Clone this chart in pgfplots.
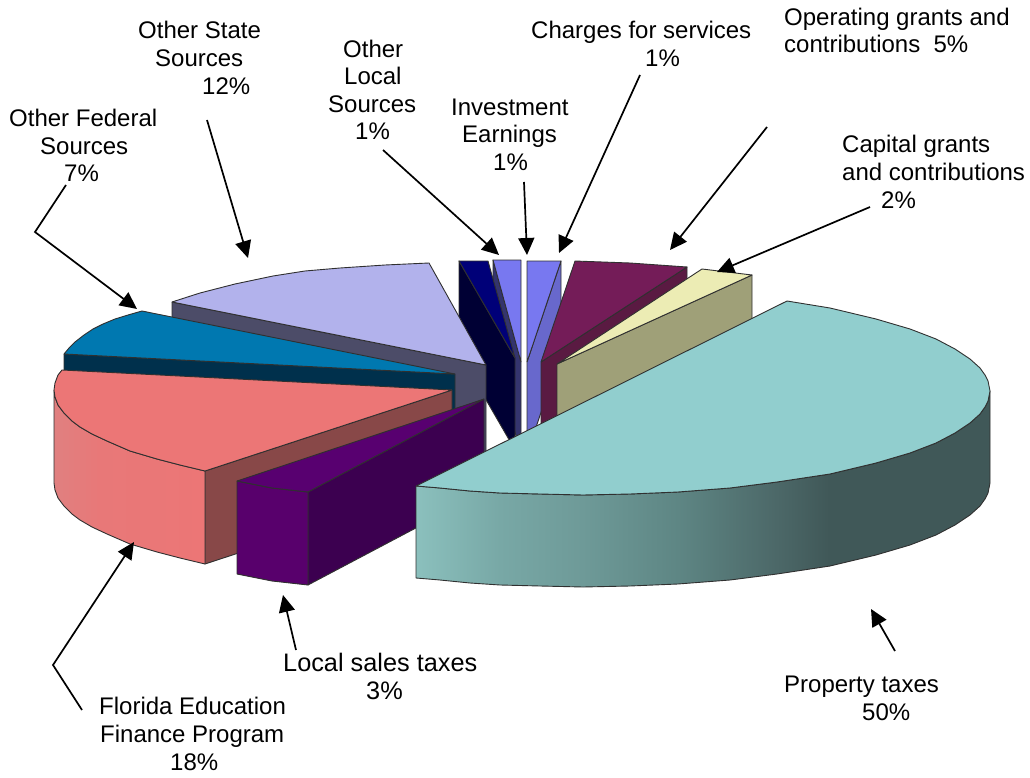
\documentclass[border=0pt]{standalone}
\usepackage{pgfplots}
\pgfplotsset{compat=1.18}
\usepackage{fontspec}
\setmainfont{Liberation Sans}
\usetikzlibrary{arrows.meta}
\definecolor{edge}{HTML}{303030}
\definecolor{p1}{HTML}{8BC0BD}\definecolor{p2}{HTML}{78A8A6}\definecolor{p3}{HTML}{6E9A98}
\definecolor{p4}{HTML}{5E8684}\definecolor{p5}{HTML}{4C6868}\definecolor{p6}{HTML}{405858}
\definecolor{f1}{HTML}{E08080}\definecolor{f2}{HTML}{E87878}\definecolor{f3}{HTML}{EC7676}
\pgfdeclarehorizontalshading{propwall}{100bp}{color(0bp)=(p1);color(25bp)=(p1);color(32.3bp)=(p2);color(39.5bp)=(p3);color(47.8bp)=(p4);color(56.4bp)=(p5);color(61bp)=(p6);color(100bp)=(p6)}
\pgfdeclarehorizontalshading{florwall}{100bp}{color(0bp)=(f1);color(25bp)=(f1);color(40bp)=(f2);color(75bp)=(f3);color(100bp)=(f3)}
\newcommand{\lab}[3]{\node[anchor=base west,inner sep=0pt,font=\fontsize{24}{27}\selectfont] at (axis cs:#1,#2) {#3};}
\newcommand{\labb}[3]{\node[anchor=base west,inner sep=0pt,font=\fontsize{25.3}{28}\selectfont] at (axis cs:#1,#2) {#3};}
\tikzset{arr/.style={line width=1.7pt,-{Triangle[length=17pt,width=16pt]}},
 poly/.style={draw=edge,line width=0.9pt,line join=round}}
\begin{document}
\begin{tikzpicture}
\begin{axis}[scale only axis,width=1030pt,height=778pt,xmin=0,xmax=1030,ymin=0,ymax=778,
 y dir=reverse,axis lines=none,clip=false,no markers]
% Charges for services
\addplot[poly,fill={rgb,255:red,104;green,104;blue,204}] coordinates {(527,362)(561,261)(561,353)(527,454)(527,362)};
\addplot[poly,fill={rgb,255:red,120;green,120;blue,240}] coordinates {(527,362)(527,261)(561,261)(527,362)};
% Investment earnings
\addplot[poly,fill={rgb,255:red,52;green,52;blue,110}] coordinates {(521,362)(493,260)(493,352)(521,454)(521,362)};
\addplot[poly,fill={rgb,255:red,120;green,120;blue,240}] coordinates {(521,362)(493,260)(521,260)(521,362)};
% Other local
\addplot[poly,fill={rgb,255:red,0;green,0;blue,52}] coordinates {(515,358)(459,261)(459,353)(515,450)(515,358)};
\addplot[poly,fill={rgb,255:red,0;green,0;blue,120}] coordinates {(515,358)(459,261)(488,261)(515,358)};
% Other state
\addplot[poly,fill={rgb,255:red,76;green,76;blue,104}] coordinates {(172,302)(486,365)(486,457)(172,394)(172,302)};
\addplot[poly,fill={rgb,255:red,178;green,178;blue,236}] coordinates {(486,365)(172,302)(200,293)(235,284)(273,276)(305,271)(340,268)(385,265)(429,263)(486,365)};
% Other federal
\addplot[poly,fill={rgb,255:red,0;green,48;blue,76}] coordinates {(64,354)(455,374)(455,466)(64,446)(64,354)};
\addplot[poly,fill={rgb,255:red,0;green,120;blue,176}] coordinates {(455,374)(64,354)(69,348)(75,342)(84,335)(93,329)(103,324)(115,319)(128,315)(142,311)(455,374)};
% Florida Education Finance Program
\addplot[poly,fill={rgb,255:red,136;green,72;blue,72}] coordinates {(452,390)(205,471)(205,564)(452,483)(452,390)};
\addplot[poly,shade,shading=florwall] coordinates {(54,390)(55,397)(58,405)(64,413)(72,421)(80,427)(92,434)(107,441)(130,451)(157,459)(180,465)(205,471)(205,564)(180,558)(157,552)(130,544)(107,534)(92,527)(80,520)(72,514)(64,506)(58,498)(55,490)(54,483)(54,390)};
\addplot[poly,fill={rgb,255:red,236;green,118;blue,118}] coordinates {(452,390)(62,370)(58,375)(55,383)(54,390)(55,397)(58,405)(64,413)(72,421)(80,427)(92,434)(107,441)(130,451)(157,459)(180,465)(205,471)(452,390)};
% Local sales taxes
\addplot[poly,fill={rgb,255:red,60;green,0;blue,80}] coordinates {(308,492)(484,399)(484,492)(308,585)(308,492)};
\addplot[poly,fill={rgb,255:red,88;green,0;blue,108}] coordinates {(237,481)(272,488)(308,492)(308,585)(272,581)(237,574)(237,481)};
\addplot[poly,fill={rgb,255:red,88;green,0;blue,112}] coordinates {(484,399)(237,481)(272,488)(308,492)(484,399)};
% Operating grants
\addplot[poly,fill={rgb,255:red,90;green,26;blue,66}] coordinates {(541,362)(687,267)(687,359)(541,454)(541,362)};
\addplot[poly,fill={rgb,255:red,116;green,28;blue,88}] coordinates {(541,362)(575,261)(630,263)(687,267)(541,362)};
% Capital grants
\addplot[poly,fill={rgb,255:red,159;green,160;blue,120}] coordinates {(557,364)(752,275)(752,367)(557,456)(557,364)};
\addplot[poly,fill={rgb,255:red,236;green,236;blue,180}] coordinates {(557,364)(702,269)(752,275)(557,364)};
% Property taxes
\addplot[poly,shade,shading=propwall] coordinates {(416,486)(440,488)(470,491)(500,493)(540,494)(583,495)(630,494)(678,492)(730,488)(777,482)(830,474)(876,463)(910,453)(936,443)(955,433)(970,423)(980,414)(985,407)(988,401)(990,391)(990,483)(988,493)(985,499)(980,506)(970,515)(955,525)(936,535)(910,545)(876,555)(830,566)(777,574)(730,580)(678,584)(630,586)(583,587)(540,586)(500,585)(470,583)(440,580)(416,578)(416,486)};
\addplot[poly,fill={rgb,255:red,145;green,206;blue,206}] coordinates {(416,486)(440,488)(470,491)(500,493)(540,494)(583,495)(630,494)(678,492)(730,488)(777,482)(830,474)(876,463)(910,453)(936,443)(955,433)(970,423)(980,414)(985,407)(988,401)(990,391)(988,381)(985,375)(980,368)(970,359)(955,349)(936,339)(910,329)(876,319)(830,308)(787,301)(416,486)};
% Leader arrows
\draw[arr] (axis cs:207,120) -- (axis cs:248,258);
\draw[arr] (axis cs:66,185) -- (axis cs:35,232) -- (axis cs:137,309);
\draw[arr] (axis cs:383,150) -- (axis cs:499,255);
\draw[arr] (axis cs:524,182) -- (axis cs:527,255);
\draw[arr] (axis cs:640,75) -- (axis cs:559,253);
\draw[arr] (axis cs:767,127) -- (axis cs:670,250);
\draw[arr] (axis cs:870,207) -- (axis cs:717,272);
\draw[arr] (axis cs:895,651) -- (axis cs:871,609);
\draw[arr] (axis cs:296,650) -- (axis cs:283,595);
\draw[arr] (axis cs:82,710) -- (axis cs:53,665) -- (axis cs:134,542);
% Labels
\lab{138}{39}{Other State}\lab{155}{67}{Sources}\lab{202}{95}{12\%}
\lab{9}{127}{Other Federal}\lab{40}{155}{Sources}\lab{64}{182}{7\%}
\lab{343}{58}{Other}\lab{344}{85}{Local}\lab{328}{113}{Sources}\lab{355}{140}{1\%}
\lab{451}{116}{Investment}\lab{462}{143}{Earnings}\lab{493}{171}{1\%}
\lab{531}{39}{Charges for services}\lab{645}{67}{1\%}
\lab{784}{26}{Operating grants and}\lab{784}{53}{contributions\ \ 5\%}
\lab{842}{153}{Capital grants}\lab{842}{181}{and contributions}\lab{881}{208}{2\%}
\lab{784}{692}{Property taxes}\lab{862}{720}{50\%}
\labb{283}{671}{Local sales taxes}\labb{366}{699}{3\%}
\lab{99}{714}{Florida Education}\lab{100}{742}{Finance Program}\lab{170}{770}{18\%}
\end{axis}
\useasboundingbox (current axis.south west) rectangle (current axis.north east);
\end{tikzpicture}
\end{document}
